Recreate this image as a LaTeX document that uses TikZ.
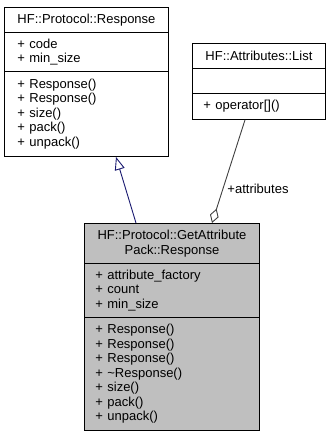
\documentclass[tikz,border=0pt]{standalone}
\usepackage{fontspec}
\setmainfont{Liberation Sans}
\usetikzlibrary{arrows.meta}
\definecolor{classgray}{HTML}{BFBFBF}
\definecolor{inhblue}{HTML}{191970}
\definecolor{aggrgray}{HTML}{404040}
\begin{document}
\begin{tikzpicture}[x=1pt,y=-1pt,
  umlfont/.style={font=\fontsize{13}{14.5}\selectfont},
  part/.style={draw=black, line width=0.9pt, fill=white, inner ysep=0pt,
    anchor=north west, umlfont},
  titlepart/.style={part, inner xsep=2pt, align=center},
  listpart/.style={part, inner xsep=11pt, align=left},
  focus/.style={fill=classgray},
  inherit/.style={draw=inhblue, line width=0.9pt,
    -{Triangle[open, length=13pt, width=10pt]}},
  aggregate/.style={draw=aggrgray, line width=0.9pt,
    -{Diamond[open, length=15pt, width=9pt]}}
]
\useasboundingbox (0,0) rectangle (331,437);

% HF::Protocol::Response
\node[titlepart, minimum width=164pt, minimum height=25pt] (r-title) at (4,7) {HF::Protocol::Response};
\node[listpart, minimum width=164pt, text width=138pt, inner xsep=13pt, minimum height=39pt] (r-attr) at (4,32) {+ code\\+ min\_size};
\node[listpart, minimum width=164pt, text width=138pt, inner xsep=13pt, minimum height=85pt] (r-ops) at (4,71) {+ Response()\\+ Response()\\+ size()\\+ pack()\\+ unpack()};

% HF::Attributes::List
\node[titlepart, minimum width=133pt, minimum height=25pt] (l-title) at (192,43) {HF::Attributes::List};
\node[listpart, minimum width=133pt, text width=111pt, minimum height=25pt] (l-attr) at (192,68) {};
\node[listpart, minimum width=133pt, text width=111pt, minimum height=26pt] (l-ops) at (192,93) {+ operator[]()};

% HF::Protocol::GetAttributePack::Response
\node[titlepart, focus, minimum width=175pt, minimum height=40pt] (g-title) at (84,223) {HF::Protocol::GetAttribute\\Pack::Response};
\node[listpart, focus, minimum width=175pt, text width=153pt, minimum height=54pt] (g-attr) at (84,263) {+ attribute\_factory\\+ count\\+ min\_size};
\node[listpart, focus, minimum width=175pt, text width=153pt, minimum height=113pt] (g-ops) at (84,317) {+ Response()\\+ Response()\\+ Response()\\+ \textasciitilde Response()\\+ size()\\+ pack()\\+ unpack()};

% connectors
\draw[inherit] ([xshift=52pt]g-title.north west) -- ([xshift=112pt]r-ops.south west);
\draw[aggregate] ([xshift=53pt]l-ops.south west) -- ([xshift=128pt]g-title.north west);
\node[umlfont, inner sep=0pt] (attr-label) at (258,189) {+attributes};
\end{tikzpicture}
\end{document}
